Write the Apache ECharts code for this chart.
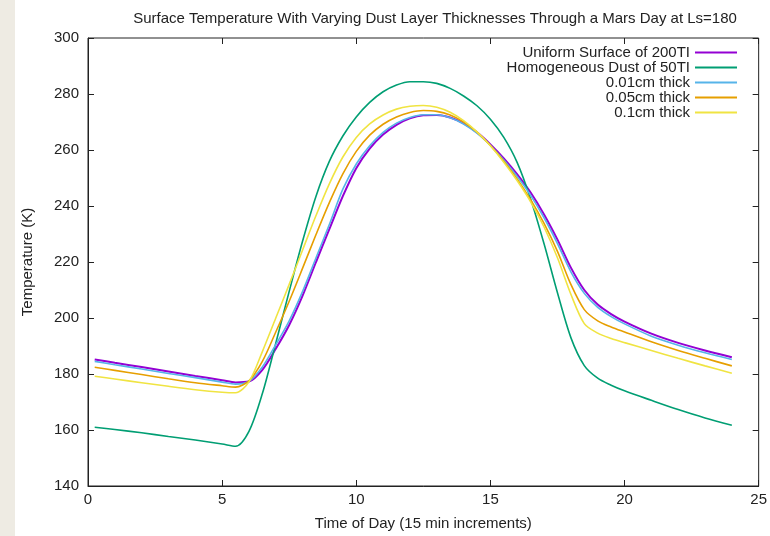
<!DOCTYPE html>
<html>
<head>
<meta charset="UTF-8">
<title>Mars surface temperature</title>
<script src="https://cdn.jsdelivr.net/npm/echarts@6/dist/echarts.min.js"></script>
<style>
body{margin:0;background:#fff}
#strip{position:absolute;left:0;top:0;width:15px;height:536px;background:#eeebe3}
#chart{position:absolute;left:0;top:0;width:770px;height:536px}
</style>
</head>
<body>
<div id="chart"></div>
<div id="strip"></div>
<script type="text/javascript">
// time of day (hours) and temperature (K)
var hours = [0.25,1,2,3,4,5,5.5,6,6.5,7,7.5,8,8.5,9,9.5,10,10.5,11,11.5,12,12.5,13,13.5,14,14.5,15,15.5,16,16.5,17,17.5,18,18.5,19,19.5,20,21,22,23,24];
var uniform200 = [185.2,184.0,182.5,180.9,179.3,177.8,177.0,177.3,181.5,189,197.5,208,220,231.8,243.5,253.5,260.5,265.5,269,271.3,272.4,272.5,271.6,269.5,266.3,262,257,251.3,244.8,237,228,218,210,204.8,201.4,198.7,194.4,191.1,188.4,186];
var dust50 = [161.0,160.2,159.0,157.7,156.4,155,154.2,159.5,173,191,209.5,227.5,243.5,256,265,271.8,277,280.8,283.2,284.4,284.4,283.8,282,279.3,275.8,271,264.5,255.5,242.5,226.5,209,193,183,178.5,176,174,170.6,167.3,164.3,161.7];
var thick001 = [184.5,183.3,181.8,180.2,178.7,177.1,176.4,177.4,182.5,190.5,199,209.5,221.5,233.5,246,255,261.5,266.3,269.6,271.6,272.6,272.6,271.5,269.3,266,261.6,256.4,250.5,243.8,235.8,226.6,216.5,208.8,203.8,200.5,197.9,193.5,190.3,187.6,185.2];
var thick005 = [182.4,181.3,179.8,178.3,176.9,175.8,175.3,177.6,184.5,195,206,217.8,229.8,241.3,251.5,259.5,265.3,269.2,271.8,273.4,274.1,273.8,272.5,270,266.4,261.6,256,249.6,242.3,233.8,223.8,212,203,199,196.8,195,191.5,188.4,185.6,182.9];
var thick01 = [179.2,178.2,176.9,175.6,174.4,173.5,173.3,177.2,188,200,212,224.3,236.6,248,257.5,264.5,269.3,272.5,274.6,275.6,275.9,275.3,273.5,270.5,266.5,261.5,255.6,249,241.5,232.5,221.5,208.5,198,194.6,192.7,191.2,188.4,185.6,182.9,180.3];
var names = ['Uniform Surface of 200TI','Homogeneous Dust of 50TI','0.01cm thick','0.05cm thick','0.1cm thick'];
var colors = ['#9400d3','#009e73','#56b4e9','#e69f00','#f0e442'];
var widths = [2,1.6,1.6,1.6,1.6];

function pairs(vals){
	var out=[];
	for(var i=0;i<hours.length;i++){ out.push([hours[i],vals[i]]); }
	return out;
}

var allVals=[uniform200,dust50,thick001,thick005,thick01];
var series=[];
for(var k=0;k<allVals.length;k++){
	series.push({
		name:names[k],
		type:'line',
		xAxisIndex:0,yAxisIndex:0,
		data:pairs(allVals[k]),
		smooth:0.3,
		symbol:'none',
		lineStyle:{color:colors[k],width:widths[k]},
		itemStyle:{color:colors[k]}
	});
}

var font='"Liberation Sans", Arial, sans-serif';
function ticks(){ return {show:true,inside:true,length:6,lineStyle:{color:'#222',width:1}}; }
var mychart=echarts.init(document.getElementById('chart'));
var option={
	animation:false,
	backgroundColor:'#fff',
	textStyle:{fontFamily:font},
	title:{
		text:'Surface Temperature With Varying Dust Layer Thicknesses Through a Mars Day at Ls=180',
		left:430,top:6,textAlign:'center',
		textStyle:{fontSize:15,fontWeight:'normal',color:'#222',fontFamily:font}
	},
	legend:{
		data:names,
		orient:'vertical',
		align:'right',
		right:28,top:40,
		itemWidth:42,itemHeight:2,itemGap:0,
		textStyle:{fontSize:15,color:'#222',lineHeight:15,fontFamily:font},
		icon:'rect'
	},
	grid:{left:88,right:10,top:38,bottom:49,show:true,borderColor:'#222',borderWidth:1,backgroundColor:'transparent'},
	xAxis:[{
		type:'value',min:0,max:25,interval:5,position:'bottom',
		name:'Time of Day (15 min increments)',nameLocation:'middle',nameGap:30,
		nameTextStyle:{fontSize:15,color:'#222',fontFamily:font},
		axisLine:{show:true,onZero:false,lineStyle:{color:'#222'}},
		axisTick:ticks(),
		axisLabel:{fontSize:15,color:'#222',margin:6,fontFamily:font},
		splitLine:{show:false}
	},{
		type:'value',min:0,max:25,interval:5,position:'top',
		axisLine:{show:false,onZero:false},axisTick:ticks(),axisLabel:{show:false},splitLine:{show:false}
	}],
	yAxis:[{
		type:'value',min:140,max:300,interval:20,position:'left',
		name:'Temperature (K)',nameLocation:'middle',nameGap:53,
		nameTextStyle:{fontSize:15,color:'#222',fontFamily:font},
		axisLine:{show:true,onZero:false,lineStyle:{color:'#222'}},
		axisTick:ticks(),
		axisLabel:{fontSize:15,color:'#222',margin:9,fontFamily:font},
		splitLine:{show:false}
	},{
		type:'value',min:140,max:300,interval:20,position:'right',
		axisLine:{show:false,onZero:false},axisTick:ticks(),axisLabel:{show:false},splitLine:{show:false}
	}],
	series:series
};
mychart.setOption(option);
</script>
</body>
</html>
